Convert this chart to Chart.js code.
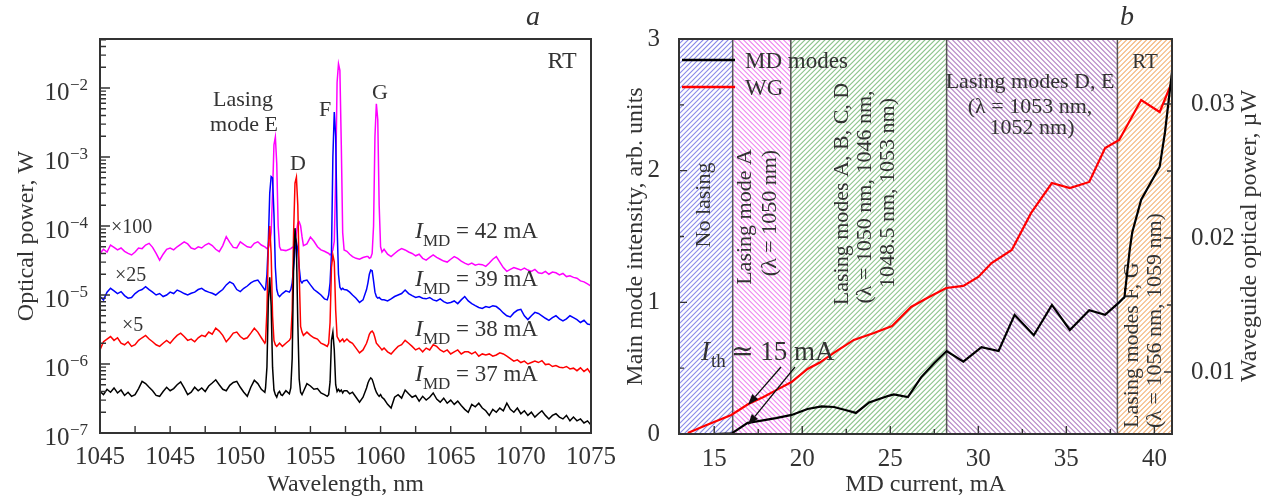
<!DOCTYPE html>
<html><head><meta charset="utf-8">
<script src="https://cdn.jsdelivr.net/npm/chart.js@4.4.1/dist/chart.umd.min.js"></script>
<style>
html,body{margin:0;padding:0;background:#fff;}
body{width:1273px;height:499px;position:relative;overflow:hidden}
#ca{position:absolute;left:0;top:0}
#cb{position:absolute;left:615px;top:0}
</style></head><body>
<canvas id="ca" width="625" height="499"></canvas>
<canvas id="cb" width="658" height="499"></canvas>
<script>
// ---------------- Panel a: spectra ----------------
const wavelength = [
 1040,1040.25,1040.5,1040.75,1041,1041.25,1041.5,1041.75,1042,1042.25,1042.5,1042.75,1043,1043.25,1043.5,1043.75,
 1044,1044.25,1044.5,1044.75,1045,1045.25,1045.5,1045.75,1046,1046.25,1046.5,1046.75,1047,1047.25,1047.5,1047.75,
 1048,1048.25,1048.5,1048.75,1049,1049.25,1049.5,1049.75,1050,1050.25,1050.5,1050.75,1051,1051.25,1051.5,1051.75,
 1051.8,1051.9,1052,1052.1,1052.2,1052.3,1052.4,1052.5,1052.6,1052.7,1052.8,1052.9,
 1053,1053.25,1053.5,
 1053.6,1053.7,1053.8,1053.9,1054,1054.1,1054.2,1054.3,1054.4,1054.5,
 1054.75,1055,1055.25,1055.5,1055.75,1056,1056.2,
 1056.3,1056.4,1056.5,1056.6,1056.7,1056.8,1056.9,1057,1057.1,1057.2,1057.3,1057.4,
 1057.6,1057.8,1058,1058.25,1058.5,1058.75,1059,
 1059.1,1059.2,1059.3,1059.4,1059.5,1059.6,1059.7,1059.8,1059.9,1060,1060.1,
 1060.25,1060.5,1060.75,1061,1061.25,1061.5,1061.75,1062,1062.25,1062.5,1062.75,1063,1063.25,1063.5,1063.75,
 1064,1064.25,1064.5,1064.75,1065,1065.25,1065.5,1065.75,1066,1066.25,1066.5,1066.75,1067,1067.25,1067.5,1067.75,
 1068,1068.25,1068.5,1068.75,1069,1069.25,1069.5,1069.75,1070,1070.25,1070.5,1070.75,1071,1071.25,1071.5,1071.75,
 1072,1072.25,1072.5,1072.75,1073,1073.25,1073.5,1073.75,1074,1074.25,1074.5,1074.75,1075
];
// I_MD = 37 mA (x1)
const p37 = [
 4.0e-7,3.6e-7,4.3e-7,3.9e-7,4.5e-7,3.8e-7,4.2e-7,3.5e-7,3.9e-7,3.4e-7,3.6e-7,4.4e-7,5.6e-7,5.2e-7,4.6e-7,4.1e-7,
 3.5e-7,3.4e-7,4.0e-7,4.6e-7,4.1e-7,4.4e-7,5.0e-7,5.5e-7,4.5e-7,3.6e-7,3.9e-7,4.6e-7,4.1e-7,4.5e-7,4.0e-7,4.8e-7,
 5.3e-7,5.9e-7,5.0e-7,4.3e-7,4.1e-7,4.9e-7,5.4e-7,5.6e-7,4.6e-7,3.9e-7,3.4e-7,4.6e-7,5.8e-7,5.2e-7,4.3e-7,3.9e-7,
 4.5e-7,9e-7,8e-6,1.8e-5,7e-6,9e-7,4.2e-7,3.6e-7,3.3e-7,3.8e-7,4.0e-7,3.6e-7,
 3.5e-7,4.1e-7,3.7e-7,
 4.5e-7,1.2e-6,2.5e-5,9.3e-5,5.0e-5,4e-6,6e-7,3.9e-7,3.6e-7,4.0e-7,
 5.2e-7,4.8e-7,4.3e-7,4.4e-7,3.8e-7,3.6e-7,3.4e-7,
 3.6e-7,5.5e-7,2.2e-6,2.9e-6,1.6e-6,5.0e-7,4.0e-7,4.3e-7,4.0e-7,4.2e-7,3.8e-7,4.1e-7,
 4.1e-7,3.7e-7,3.9e-7,3.3e-7,2.8e-7,3.3e-7,4.5e-7,
 5.3e-7,5.9e-7,6.3e-7,6.0e-7,5.2e-7,4.4e-7,3.9e-7,3.6e-7,3.4e-7,3.6e-7,3.3e-7,
 3.1e-7,2.6e-7,2.3e-7,3.3e-7,3.6e-7,3.2e-7,4.2e-7,3.7e-7,3.3e-7,3.5e-7,2.9e-7,3.4e-7,3.0e-7,3.3e-7,3.8e-7,
 3.1e-7,2.8e-7,3.2e-7,2.7e-7,3.0e-7,2.6e-7,2.9e-7,2.5e-7,2.2e-7,2.0e-7,2.6e-7,2.4e-7,2.7e-7,2.3e-7,2.1e-7,1.8e-7,
 2.2e-7,2.0e-7,2.3e-7,2.1e-7,2.7e-7,2.2e-7,2.0e-7,2.3e-7,1.9e-7,2.1e-7,1.8e-7,2.0e-7,1.7e-7,1.9e-7,2.1e-7,1.8e-7,
 1.6e-7,1.8e-7,1.9e-7,1.7e-7,1.6e-7,1.8e-7,1.5e-7,1.7e-7,1.5e-7,1.6e-7,1.4e-7,1.5e-7,1.3e-7
];
// I_MD = 38 mA (x5)
const p38 = [
 1.6e-6,2.1e-6,2.3e-6,2.5e-6,2.2e-6,2.4e-6,2.0e-6,1.9e-6,2.1e-6,1.8e-6,1.9e-6,2.2e-6,2.4e-6,2.6e-6,2.3e-6,2.1e-6,
 1.9e-6,1.8e-6,2.0e-6,2.2e-6,2.0e-6,2.3e-6,2.6e-6,2.8e-6,2.5e-6,2.2e-6,2.3e-6,2.1e-6,2.4e-6,2.6e-6,2.5e-6,2.9e-6,
 2.7e-6,3.3e-6,3.0e-6,2.6e-6,2.1e-6,2.4e-6,2.8e-6,2.9e-6,2.5e-6,2.3e-6,2.4e-6,2.8e-6,3.3e-6,2.9e-6,2.4e-6,2.0e-6,
 2.1e-6,6e-6,5e-5,1.0e-4,4e-5,5e-6,2.2e-6,1.9e-6,1.8e-6,1.9e-6,2.0e-6,1.9e-6,
 1.8e-6,2.0e-6,2.2e-6,
 2.4e-6,6e-6,8e-5,4.2e-4,5.1e-4,2.0e-4,2.0e-5,3.5e-6,2.9e-6,2.6e-6,
 2.9e-6,2.6e-6,2.4e-6,2.3e-6,2.0e-6,1.9e-6,1.8e-6,
 2.0e-6,4e-6,2.5e-5,3.8e-5,3.0e-5,6e-6,2.5e-6,2.3e-6,2.1e-6,2.2e-6,2.3e-6,2.1e-6,
 2.3e-6,2.1e-6,2.0e-6,1.7e-6,1.45e-6,1.6e-6,2.0e-6,
 2.3e-6,2.7e-6,2.9e-6,3.0e-6,2.8e-6,2.4e-6,2.0e-6,1.9e-6,1.8e-6,1.7e-6,1.6e-6,
 1.7e-6,1.5e-6,1.4e-6,1.6e-6,1.8e-6,1.9e-6,2.2e-6,2.0e-6,1.8e-6,1.6e-6,1.7e-6,1.5e-6,1.7e-6,1.6e-6,1.9e-6,
 1.8e-6,1.6e-6,1.5e-6,1.6e-6,1.4e-6,1.5e-6,1.6e-6,1.4e-6,1.5e-6,1.5e-6,1.4e-6,1.5e-6,1.3e-6,1.4e-6,1.35e-6,1.4e-6,
 1.3e-6,1.35e-6,1.45e-6,1.4e-6,1.3e-6,1.2e-6,1.1e-6,1.15e-6,1.05e-6,1.1e-6,1.0e-6,1.05e-6,1.1e-6,1.05e-6,1.12e-6,0.98e-6,
 1.0e-6,0.92e-6,0.95e-6,0.9e-6,0.88e-6,0.92e-6,0.85e-6,0.87e-6,0.8e-6,0.88e-6,0.78e-6,0.85e-6,0.72e-6
];
// I_MD = 39 mA (x25)
const p39 = [
 0.95e-5,0.85e-5,1.1e-5,1.25e-5,1.15e-5,1.05e-5,1.12e-5,0.98e-5,0.9e-5,0.92e-5,1.05e-5,1.15e-5,1.2e-5,1.32e-5,1.2e-5,1.1e-5,
 1.0e-5,1.05e-5,0.95e-5,1.0e-5,1.1e-5,1.05e-5,1.18e-5,1.12e-5,1.05e-5,1.0e-5,1.06e-5,1.1e-5,1.2e-5,1.25e-5,1.15e-5,1.1e-5,
 1.06e-5,1.0e-5,1.1e-5,1.2e-5,1.4e-5,1.55e-5,1.45e-5,1.2e-5,1.12e-5,1.25e-5,1.35e-5,1.5e-5,1.6e-5,1.65e-5,1.4e-5,1.18e-5,
 1.2e-5,2.0e-5,6e-5,3e-4,5.2e-4,5.0e-4,1.5e-4,2.5e-5,1.2e-5,1.0e-5,0.95e-5,1.0e-5,
 1.05e-5,1.15e-5,1.1e-5,
 1.2e-5,1.5e-5,2.5e-5,4.5e-5,5.9e-5,4.5e-5,2.5e-5,1.6e-5,1.5e-5,1.6e-5,
 1.65e-5,1.4e-5,1.2e-5,1.1e-5,1.0e-5,0.88e-5,0.85e-5,
 1.0e-5,1.5e-5,4e-5,1.0e-3,4.5e-3,2.0e-3,1.0e-4,2.0e-5,1.3e-5,1.2e-5,1.25e-5,1.2e-5,
 1.18e-5,1.1e-5,1.0e-5,0.9e-5,0.78e-5,0.85e-5,1.2e-5,
 1.5e-5,2.0e-5,2.3e-5,2.25e-5,1.6e-5,1.1e-5,0.95e-5,0.9e-5,0.92e-5,0.88e-5,0.85e-5,
 0.85e-5,0.82e-5,0.88e-5,0.95e-5,1.0e-5,1.05e-5,1.18e-5,1.05e-5,0.98e-5,0.92e-5,0.95e-5,0.9e-5,0.88e-5,0.92e-5,0.85e-5,
 0.82e-5,0.88e-5,0.8e-5,0.76e-5,0.78e-5,0.82e-5,0.75e-5,0.85e-5,0.95e-5,0.82e-5,0.75e-5,0.7e-5,0.66e-5,0.64e-5,0.68e-5,0.66e-5,
 0.7e-5,0.68e-5,0.62e-5,0.55e-5,0.5e-5,0.48e-5,0.55e-5,0.6e-5,0.62e-5,0.5e-5,0.44e-5,0.5e-5,0.56e-5,0.54e-5,0.5e-5,0.46e-5,
 0.43e-5,0.47e-5,0.5e-5,0.45e-5,0.42e-5,0.45e-5,0.5e-5,0.47e-5,0.44e-5,0.4e-5,0.43e-5,0.38e-5,0.37e-5
];
// I_MD = 42 mA (x100)
const p42 = [
 4.0e-5,4.6e-5,4.2e-5,5.3e-5,4.9e-5,4.5e-5,4.8e-5,4.3e-5,4.0e-5,3.8e-5,4.2e-5,4.8e-5,4.7e-5,5.3e-5,5.6e-5,4.9e-5,
 4.0e-5,3.2e-5,3.9e-5,4.6e-5,4.8e-5,4.5e-5,5.0e-5,5.4e-5,5.9e-5,5.5e-5,4.8e-5,4.6e-5,5.0e-5,4.8e-5,5.3e-5,5.6e-5,
 5.2e-5,4.6e-5,4.25e-5,5.2e-5,7.0e-5,5.8e-5,4.9e-5,4.8e-5,5.9e-5,5.4e-5,5.0e-5,4.9e-5,5.6e-5,5.9e-5,5.3e-5,5.0e-5,
 4.9e-5,4.7e-5,4.8e-5,5.5e-5,8e-5,3e-4,1.5e-3,1.95e-3,8e-4,1.0e-4,5e-5,4.5e-5,
 4.5e-5,4.4e-5,4.6e-5,
 4.7e-5,4.9e-5,5.0e-5,5.5e-5,8e-5,1.1e-4,1.15e-4,1.0e-4,7e-5,5.2e-5,
 5.5e-5,6.9e-5,6.0e-5,5.0e-5,4.5e-5,4.3e-5,4.1e-5,
 4.0e-5,3.8e-5,4.0e-5,4.5e-5,6e-5,5e-4,1.2e-2,2.24e-2,1.8e-2,1.5e-3,8e-5,4.5e-5,
 4.3e-5,3.9e-5,3.6e-5,3.4e-5,3.3e-5,3.5e-5,3.6e-5,
 3.6e-5,3.4e-5,3.5e-5,4.0e-5,1.0e-4,2.0e-3,5.9e-3,3.5e-3,2.0e-4,5.0e-5,4.2e-5,
 4.6e-5,3.9e-5,3.6e-5,4.0e-5,4.4e-5,4.7e-5,4.5e-5,4.2e-5,4.0e-5,3.7e-5,3.9e-5,3.4e-5,3.2e-5,3.5e-5,3.8e-5,
 3.5e-5,3.3e-5,3.1e-5,3.0e-5,3.3e-5,3.6e-5,3.4e-5,3.1e-5,2.9e-5,2.75e-5,2.9e-5,2.7e-5,2.8e-5,2.75e-5,2.6e-5,2.9e-5,
 3.3e-5,3.6e-5,3.0e-5,2.5e-5,2.2e-5,2.35e-5,2.5e-5,2.4e-5,2.3e-5,2.45e-5,2.3e-5,2.2e-5,2.35e-5,2.1e-5,2.05e-5,2.2e-5,
 2.0e-5,2.15e-5,2.1e-5,1.95e-5,2.05e-5,1.85e-5,1.9e-5,1.8e-5,1.75e-5,1.6e-5,1.55e-5,1.45e-5,1.35e-5
];
const spectrumCurrents = [37, 38, 39, 42];
const spectrumScaleLabels = ['', '\u00d75', '\u00d725', '\u00d7100'];
const leftXTickValues = [1040, 1045, 1050, 1055, 1060, 1065, 1070, 1075];
const leftXTickLabels = ['1045', '1045', '1050', '1055', '1060', '1065', '1070', '1075'];
const leftXMinor = [1042.5, 1047.5, 1052.5, 1057.5, 1062.5, 1067.5, 1072.5];
const leftYTickExp = [-7, -6, -5, -4, -3, -2];

// ---------------- Panel b: current dependences ----------------
const mdCurrent = [15.0,16.0,16.9,17.6,18.5,19.4,20.3,21.1,21.8,22.5,23.05,23.8,24.9,25.2,26.0,26.75,27.5,28.2,29.15,30.18,31.15,32.06,33.15,34.18,35.2,36.3,37.2,38.0,38.3,38.6,38.74,39.25,40.3,40.6,41.0];
const mdIntensity = [0,0.005,0.085,0.10,0.12,0.145,0.19,0.21,0.205,0.18,0.16,0.24,0.29,0.30,0.28,0.43,0.54,0.63,0.55,0.66,0.63,0.905,0.75,0.98,0.79,0.94,0.905,1.0,1.04,1.4,1.53,1.78,2.03,2.29,2.75];
const wgCurrent = [13.5,14.5,15.97,16.94,17.8,18.6,19.39,20.3,21.0,21.79,22.93,24.07,25.1,26.18,27.2,28.18,29.15,30.0,30.75,31.9,33.0,34.18,35.2,36.3,37.2,38.0,39.25,40.3,41.0];
const wgPower = [0.00545,0.0060,0.00679,0.00761,0.00813,0.0087,0.00925,0.01022,0.0107,0.01142,0.01239,0.01291,0.01343,0.01485,0.0156,0.01627,0.01642,0.01709,0.01813,0.0191,0.02187,0.0241,0.02373,0.02418,0.02672,0.02731,0.0303,0.0294,0.03164];
const regionEdges = [13, 16.05, 19.35, 28.2, 37.9, 41];
const rightXTicks = [15, 20, 25, 30, 35, 40];
const rightXMinor = [17.5, 22.5, 27.5, 32.5, 37.5];
const rightYTicks = [0, 1, 2, 3];
const rightYMinor = [0.5, 1.5, 2.5];
const rightY2Ticks = [0.01, 0.02, 0.03];
const rightY2Minor = [0.015, 0.025];

// ---------------- styles ----------------
const FONT = "'Liberation Serif','Times New Roman','DejaVu Serif',serif";
const INK = '#333333';
const hatchColors = ['#8a8ae8', '#ee86ee', '#8cc48c', '#b98ac8', '#f4b478'];
const hatchDirs = [1, -1, 1, -1, 1];
const seriesColors = ['#000000', '#ff0000', '#0000ff', '#ff00ff'];
function fnt(size, style) { return (style || '') + ' ' + size + 'px ' + FONT; }
Chart.defaults.font.family = FONT;
Chart.defaults.color = INK;

function rotText(ctx, text, x, y, align) {
  ctx.save(); ctx.translate(x, y); ctx.rotate(-Math.PI / 2);
  ctx.textAlign = align || 'center'; ctx.textBaseline = 'middle';
  ctx.fillText(text, 0, 0); ctx.restore();
}
function arrow(ctx, x0, y0, x1, y1) {
  const ang = Math.atan2(y1 - y0, x1 - x0), L = 11, W = 4;
  const bx = x1 - L * Math.cos(ang), by = y1 - L * Math.sin(ang);
  ctx.beginPath(); ctx.moveTo(x0, y0); ctx.lineTo(bx, by); ctx.stroke();
  ctx.beginPath(); ctx.moveTo(x1, y1);
  ctx.lineTo(bx + W * Math.sin(ang), by - W * Math.cos(ang));
  ctx.lineTo(bx - W * Math.sin(ang), by + W * Math.cos(ang));
  ctx.closePath(); ctx.fill();
}

// ---------------- chart a ----------------
const leftSeries = [p37, p38, p39, p42];
const leftDecor = {
  id: 'leftDecor',
  afterDraw(chart) {
    const {ctx, chartArea: a, scales: {x, y}} = chart;
    ctx.save();
    ctx.strokeStyle = INK; ctx.lineWidth = 1.4;
    ctx.beginPath();
    leftXTickValues.concat(leftXMinor).forEach(v => {
      const px = x.getPixelForValue(v);
      ctx.moveTo(px, a.bottom); ctx.lineTo(px, a.bottom - 7);
    });
    for (let e = -7; e <= -2; e++) {
      for (let m = 1; m <= 9; m++) {
        const v = m * Math.pow(10, e);
        if (v > y.max) break;
        const py = y.getPixelForValue(v);
        ctx.moveTo(a.left, py); ctx.lineTo(a.left + (m === 1 ? 10 : 6), py);
      }
    }
    ctx.stroke();
    ctx.lineWidth = 2;
    ctx.strokeRect(a.left, a.top, a.right - a.left, a.bottom - a.top);
    ctx.fillStyle = INK;
    ctx.textBaseline = 'alphabetic';
    leftYTickExp.forEach(e => {
      const py = y.getPixelForValue(Math.pow(10, e));
      const sup = '\u2212' + Math.abs(e);
      ctx.font = fnt(17);
      const sw = ctx.measureText(sup).width;
      const xr = a.left - 12;
      ctx.textAlign = 'right';
      ctx.fillText(sup, xr, py + 2);
      ctx.font = fnt(25);
      ctx.fillText('10', xr - sw - 0.5, py + 12);
    });
    // annotations
    ctx.textAlign = 'center'; ctx.textBaseline = 'middle';
    ctx.font = fnt(22);
    ctx.fillText('Lasing', 243, 100); ctx.fillText('mode E', 244, 125);
    ctx.fillText('D', 298, 164); ctx.fillText('F', 325, 110); ctx.fillText('G', 380, 93);
    ctx.font = fnt(24); ctx.fillText('RT', 562, 62);
    ctx.font = fnt(28, 'italic'); ctx.fillText('a', 533, 18);
    ctx.textAlign = 'left'; ctx.font = fnt(20);
    const scalePos = [null, [122, 326], [115, 276], [111, 228]];
    spectrumScaleLabels.forEach((s, i) => { if (s) ctx.fillText(s, scalePos[i][0], scalePos[i][1]); });
    const labelY = [375, 330, 280, 232];
    spectrumCurrents.forEach((c, i) => {
      const yy = labelY[i];
      ctx.font = fnt(24, 'italic'); ctx.fillText('I', 415, yy);
      ctx.font = fnt(17); ctx.fillText('MD', 423, yy + 10);
      ctx.font = fnt(23); ctx.fillText('= ' + c + ' mA', 456, yy);
    });
    ctx.restore();
  }
};

new Chart(document.getElementById('ca'), {
  type: 'line',
  data: {
    datasets: leftSeries.map((s, i) => ({
      label: spectrumCurrents[i] + ' mA',
      data: wavelength.map((w, k) => ({x: w, y: s[k]})),
      borderColor: seriesColors[i], backgroundColor: seriesColors[i],
      borderWidth: 1.5, pointRadius: 0, tension: 0, fill: false
    }))
  },
  options: {
    responsive: false, animation: false, events: [],
    layout: {padding: {top: 39, right: 34, left: 0, bottom: 0}},
    plugins: {legend: {display: false}, tooltip: {enabled: false}},
    scales: {
      x: {
        type: 'linear', min: 1040, max: 1075,
        afterBuildTicks: s => { s.ticks = leftXTickValues.map(v => ({value: v})); },
        afterFit: s => { s.height = 66; },
        grid: {display: false}, border: {display: false},
        ticks: {autoSkip: false, maxRotation: 0, padding: 1, color: INK, font: {size: 25},
          callback: (v, i) => leftXTickLabels[i]},
        title: {display: true, text: 'Wavelength, nm', color: INK, font: {size: 24}, padding: {top: 0, bottom: 0}}
      },
      y: {
        type: 'logarithmic', min: 1e-7, max: 0.0513,
        afterFit: s => { s.width = 100; },
        grid: {display: false}, border: {display: false},
        ticks: {display: false},
        title: {display: true, text: 'Optical power, W', color: INK, font: {size: 24}, padding: {top: 12, bottom: 0}}
      }
    }
  },
  plugins: [leftDecor]
});

// ---------------- chart b ----------------
const rightDecor = {
  id: 'rightDecor',
  beforeDatasetsDraw(chart) {
    const {ctx, chartArea: a, scales: {x}} = chart;
    const h = a.bottom - a.top;
    ctx.save();
    for (let i = 0; i < regionEdges.length - 1; i++) {
      const x0 = x.getPixelForValue(regionEdges[i]), x1 = x.getPixelForValue(regionEdges[i + 1]);
      ctx.save();
      ctx.beginPath(); ctx.rect(x0, a.top, x1 - x0, h); ctx.clip();
      ctx.strokeStyle = hatchColors[i]; ctx.lineWidth = 1.1;
      ctx.beginPath();
      for (let s = x0 - h - 10; s < x1 + h + 10; s += 5) {
        if (hatchDirs[i] > 0) { ctx.moveTo(s, a.bottom); ctx.lineTo(s + h, a.top); }
        else { ctx.moveTo(s, a.top); ctx.lineTo(s + h, a.bottom); }
      }
      ctx.stroke();
      ctx.restore();
    }
    ctx.strokeStyle = '#555555'; ctx.lineWidth = 1.5;
    ctx.beginPath();
    for (let i = 1; i < regionEdges.length - 1; i++) {
      const px = x.getPixelForValue(regionEdges[i]);
      ctx.moveTo(px, a.top); ctx.lineTo(px, a.bottom);
    }
    ctx.stroke();
    // region texts
    ctx.fillStyle = INK;
    ctx.font = fnt(22);
    rotText(ctx, 'No lasing', 89, 205);
    rotText(ctx, 'Lasing mode A', 130, 217);
    rotText(ctx, '(\u03bb = 1050 nm)', 155, 213);
    rotText(ctx, 'Lasing modes A, B, C, D', 227, 194);
    rotText(ctx, '(\u03bb = 1050 nm, 1046 nm,', 250, 197);
    rotText(ctx, '1048.5 nm, 1053 nm)', 273, 193);
    ctx.textAlign = 'center'; ctx.textBaseline = 'middle';
    ctx.fillText('Lasing modes D, E', 415, 82);
    ctx.fillText('(\u03bb = 1053 nm,', 415, 107);
    ctx.fillText('1052 nm)', 417, 128);
    ctx.font = fnt(21); ctx.fillText('RT', 530, 62);
    ctx.font = fnt(22);
    rotText(ctx, 'Lasing modes F, G', 517, 428, 'left');
    rotText(ctx, '(\u03bb = 1056 nm, 1059 nm)', 540, 428, 'left');
    ctx.restore();
  },
  afterDraw(chart) {
    const {ctx, chartArea: a, scales: {x, y, y2}} = chart;
    ctx.save();
    ctx.strokeStyle = INK; ctx.lineWidth = 1.4;
    ctx.beginPath();
    rightXTicks.forEach(v => { const p = x.getPixelForValue(v); ctx.moveTo(p, a.bottom); ctx.lineTo(p, a.bottom - 8); });
    rightXMinor.forEach(v => { const p = x.getPixelForValue(v); ctx.moveTo(p, a.bottom); ctx.lineTo(p, a.bottom - 5); });
    rightYTicks.forEach(v => { const p = y.getPixelForValue(v); ctx.moveTo(a.left, p); ctx.lineTo(a.left + 8, p); });
    rightYMinor.forEach(v => { const p = y.getPixelForValue(v); ctx.moveTo(a.left, p); ctx.lineTo(a.left + 5, p); });
    rightY2Ticks.forEach(v => { const p = y2.getPixelForValue(v); ctx.moveTo(a.right, p); ctx.lineTo(a.right - 8, p); });
    rightY2Minor.forEach(v => { const p = y2.getPixelForValue(v); ctx.moveTo(a.right, p); ctx.lineTo(a.right - 5, p); });
    ctx.stroke();
    ctx.lineWidth = 2;
    ctx.strokeRect(a.left, a.top, a.right - a.left, a.bottom - a.top);
    // legend
    const ds = chart.data.datasets;
    const legY = [60, 87];
    ds.forEach((d, i) => {
      ctx.strokeStyle = d.borderColor; ctx.lineWidth = 2.5;
      ctx.beginPath(); ctx.moveTo(67, legY[i]); ctx.lineTo(120, legY[i]); ctx.stroke();
      ctx.fillStyle = INK; ctx.font = fnt(23); ctx.textAlign = 'left'; ctx.textBaseline = 'middle';
      ctx.fillText(d.label, 130, legY[i] + 2);
    });
    // threshold annotation
    ctx.fillStyle = INK; ctx.strokeStyle = '#111'; ctx.lineWidth = 1.3;
    ctx.textAlign = 'left'; ctx.textBaseline = 'middle';
    ctx.font = fnt(27, 'italic'); ctx.fillText('I', 86, 353);
    ctx.font = fnt(19); ctx.fillText('th', 96, 362);
    ctx.font = fnt(27); ctx.fillText('\u2243 15 mA', 116, 353);
    ctx.fillStyle = '#111';
    arrow(ctx, 166, 367, 133, 405);
    arrow(ctx, 180, 367, 133, 425);
    // panel letter
    ctx.fillStyle = INK; ctx.textAlign = 'center';
    ctx.font = fnt(28, 'italic'); ctx.fillText('b', 512, 18);
    // right axis title
    ctx.font = fnt(24);
    rotText(ctx, 'Waveguide optical power, \u00b5W', 635, 236);
    ctx.restore();
  }
};

new Chart(document.getElementById('cb'), {
  type: 'line',
  data: {
    datasets: [
      {label: 'MD modes', data: mdCurrent.map((c, i) => ({x: c, y: mdIntensity[i]})), yAxisID: 'y',
       borderColor: '#000000', backgroundColor: '#000000', borderWidth: 2.2, pointRadius: 0, tension: 0},
      {label: 'WG', data: wgCurrent.map((c, i) => ({x: c, y: wgPower[i]})), yAxisID: 'y2',
       borderColor: '#ff0000', backgroundColor: '#ff0000', borderWidth: 2.2, pointRadius: 0, tension: 0}
    ]
  },
  options: {
    responsive: false, animation: false, events: [],
    layout: {padding: {top: 39, right: 0, left: 0, bottom: 0}},
    plugins: {legend: {display: false}, tooltip: {enabled: false}},
    scales: {
      x: {
        type: 'linear', min: 13, max: 41,
        afterBuildTicks: s => { s.ticks = rightXTicks.map(v => ({value: v})); },
        afterFit: s => { s.height = 65; },
        grid: {display: false}, border: {display: false},
        ticks: {autoSkip: false, maxRotation: 0, padding: 2, color: INK, font: {size: 25}},
        title: {display: true, text: 'MD current, mA', color: INK, font: {size: 24}, padding: {top: 0, bottom: 0}}
      },
      y: {
        type: 'linear', position: 'left', min: 0, max: 3,
        afterBuildTicks: s => { s.ticks = rightYTicks.map(v => ({value: v})); },
        afterFit: s => { s.width = 64; },
        grid: {display: false}, border: {display: false},
        ticks: {padding: 11, color: INK, font: {size: 25}},
        title: {display: true, text: 'Main mode intensity, arb. units', color: INK, font: {size: 24}, padding: {top: 6, bottom: 0}}
      },
      y2: {
        type: 'linear', position: 'right', min: 0.00537, max: 0.03485,
        afterBuildTicks: s => { s.ticks = rightY2Ticks.map(v => ({value: v})); },
        afterFit: s => { s.width = 101; },
        grid: {display: false}, border: {display: false},
        ticks: {padding: 11, color: INK, font: {size: 25}, callback: v => String(v)}
      }
    }
  },
  plugins: [rightDecor]
});
</script></body></html>
